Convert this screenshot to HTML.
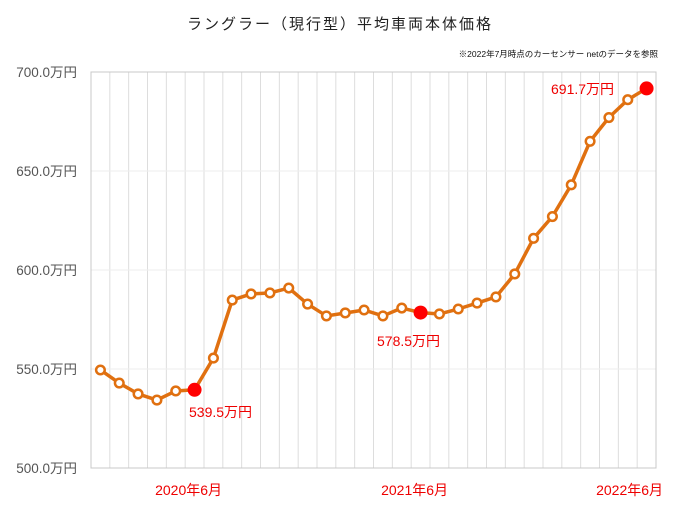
<!DOCTYPE html>
<html><head><meta charset="utf-8"><style>
body{margin:0;background:#fff}
svg text{font-family:"Liberation Sans","Noto Sans CJK JP",sans-serif}
</style></head><body>
<svg width="681" height="511" viewBox="0 0 681 511" xmlns="http://www.w3.org/2000/svg">
<rect width="681" height="511" fill="#fff"/>
<text x="340" y="29" text-anchor="middle" font-size="15" fill="#222" letter-spacing="2">ラングラー（現行型）平均車両本体価格</text>
<text x="658" y="57" text-anchor="end" font-size="8.5" fill="#111">※2022年7月時点のカーセンサー netのデータを参照</text>
<g id="grid"></g>
<g id="data"></g>
</svg>
<script>
const L=91,R=656,T=72,B=468,n=30,w=(R-L)/n;
const vals=[549.5,542.9,537.4,534.3,538.9,539.5,555.5,584.8,587.9,588.4,590.9,582.8,576.8,578.3,579.8,576.8,580.8,578.5,577.8,580.3,583.3,586.4,598,616,627,643,665,677,686,691.7];
const y=v=>B-(v-500)*(B-T)/200, x=i=>L+w/2+i*w;
let g='';
for(let i=1;i<n;i++){g+=`<line x1="${L+i*w}" y1="${T}" x2="${L+i*w}" y2="${B}" stroke="#ddd" stroke-width="1"/>`;}
for(let k=1;k<4;k++){const yy=y(500+k*50);g+=`<line x1="${L}" y1="${yy}" x2="${R}" y2="${yy}" stroke="#eee"/>`;}
g+=`<rect x="${L}" y="${T}" width="${R-L}" height="${B-T}" fill="none" stroke="#c8c8c8"/>`;
for(let k=0;k<5;k++){g+=`<text x="77" y="${y(500+k*50)+5}" text-anchor="end" font-size="13.5" fill="#555">${500+k*50}.0万円</text>`;}
document.getElementById('grid').innerHTML=g;
let d='<polyline fill="none" stroke="#e07010" stroke-width="3.5" stroke-linejoin="round" points="'+vals.map((v,i)=>x(i)+','+y(v)).join(' ')+'"/>';
vals.forEach((v,i)=>{if([5,17,29].includes(i))d+=`<circle cx="${x(i)}" cy="${y(v)}" r="7" fill="#f00"/>`;else d+=`<circle cx="${x(i)}" cy="${y(v)}" r="4.3" fill="#fff" stroke="#e07010" stroke-width="2.5"/>`;});
d+=`<text x="189" y="417" font-size="14" fill="#e00">539.5万円</text>`;
d+=`<text x="377" y="346" font-size="14" fill="#e00">578.5万円</text>`;
d+=`<text x="551" y="94" font-size="14" fill="#e00">691.7万円</text>`;
d+=`<text x="${x(5)-6}" y="495" text-anchor="middle" font-size="14" fill="#e00">2020年6月</text>`;
d+=`<text x="${x(17)-6}" y="495" text-anchor="middle" font-size="14" fill="#e00">2021年6月</text>`;
d+=`<text x="${x(29)-17}" y="495" text-anchor="middle" font-size="14" fill="#e00">2022年6月</text>`;
document.getElementById('data').innerHTML=d;
</script>
</body></html>
